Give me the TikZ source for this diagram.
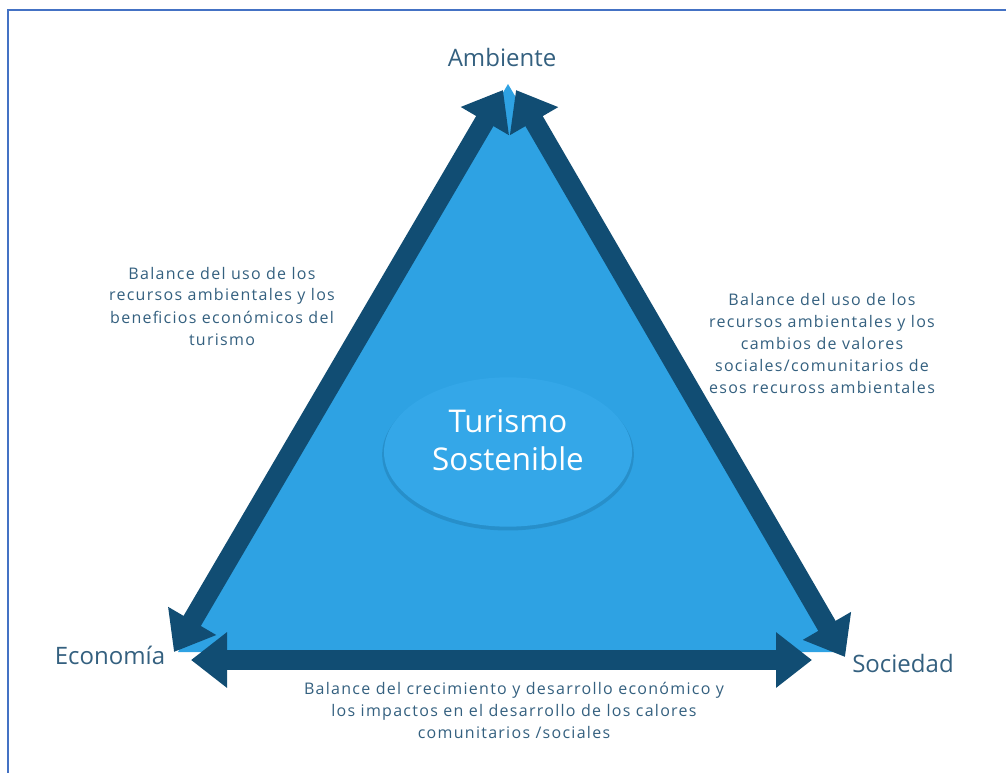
\documentclass[tikz,border=0pt]{standalone}
\usepackage{fontspec}
\setmainfont{Open Sans}
\newfontfamily\notefont[LetterSpace=8]{Open Sans}
\usepackage{tikz}
\usetikzlibrary{positioning, arrows.meta, shapes.geometric, shadows}

\definecolor{fillblue}{HTML}{2EA2E3}
\definecolor{corefill}{HTML}{34A7E8}
\definecolor{arrowblue}{HTML}{114D73}
\definecolor{labelblue}{HTML}{34607F}
\definecolor{frameblue}{HTML}{4472C4}

\tikzset{
	pillar/.style={line width=15pt, arrowblue, {Triangle[length=27pt, width=40pt]}-{Triangle[length=27pt, width=40pt]}},
	corner/.style={font=\fontsize{18}{22}\selectfont, text=labelblue},
	note/.style={font=\notefont\fontsize{12}{16.5}\selectfont, text=labelblue, align=center}
}

\begin{document}
\begin{tikzpicture}[x=0.75pt, y=-0.75pt]
	\useasboundingbox (0,0) rectangle (1006,773);
	
	% Frame
	\draw[frameblue, line width=2pt] (8,773) -- (8,10) -- (1006,10);
	
	% Triangle
	\fill[fillblue] (508,84) -- (178,652) -- (842,652) -- cycle;
	
	% Center
	\node[ellipse, fill=corefill, minimum width=186pt, minimum height=112pt, inner sep=0pt,
		drop shadow={shadow xshift=0pt, shadow yshift=-2pt, shadow scale=1.015, fill=arrowblue, opacity=0.22}] (core) at (508,452) {};
	\node[font=\fontsize{23.5}{29}\selectfont, text=white, align=center] (coretext) at (508,440) {Turismo\\Sostenible};
	
	% Corners
	\node[corner] (amb) at (502,58) {Ambiente};
	\node[corner] (eco) at (110,655) {Economía};
	\node[corner] (soc) at (903,663) {Sociedad};
	
	\coordinate (ambL) at (503,90);
	\coordinate (ambR) at (516,90);
	\coordinate (ecoD) at (174,652);
	\coordinate (ecoH) at (191,660);
	\coordinate (socD) at (845,657);
	\coordinate (socH) at (812,660);
	
	% Pillars
	\draw[pillar] (ambL) -- (ecoD);
	\draw[pillar] (ambR) -- (socD);
	\draw[pillar] (ecoH) -- (socH);
	
	% Notes
	\node[note] (n1) at (222,306) {Balance del uso de los\\recursos ambientales y los\\beneficios económicos del\\turismo};
	\node[note] (n2) at (822,343) {Balance del uso de los\\recursos ambientales y los\\cambios de valores\\sociales/comunitarios de\\esos recuross ambientales};
	\node[note] (n3) at (514,710) {Balance del crecimiento y desarrollo económico y\\los impactos en el desarrollo de los calores\\comunitarios /sociales};
\end{tikzpicture}
\end{document}
